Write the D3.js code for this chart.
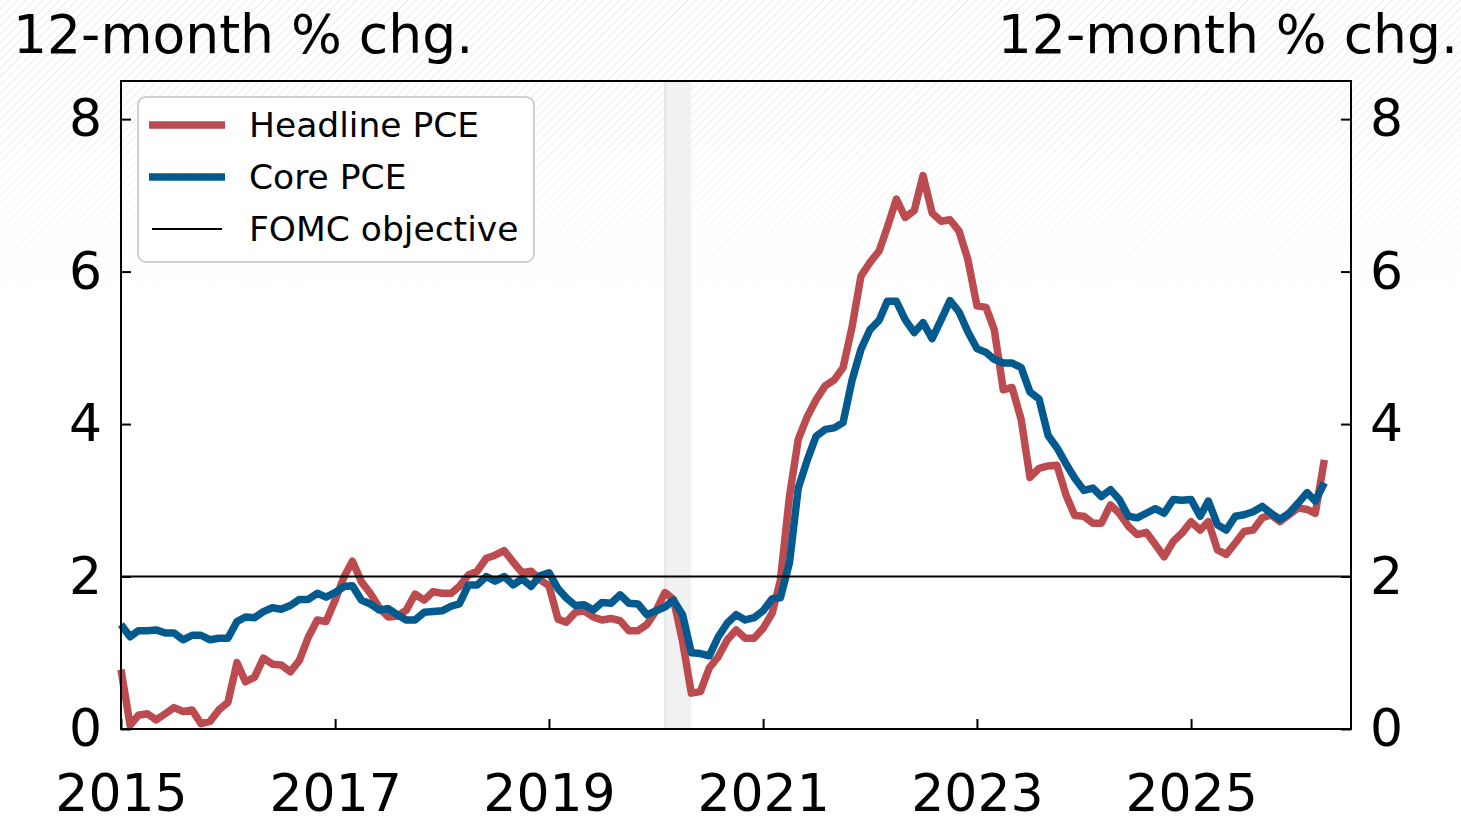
<!DOCTYPE html>
<html>
<head>
<meta charset="utf-8">
<script src="https://cdn.jsdelivr.net/npm/d3@7"></script>
<style>
  body { margin: 0; background: #fff; }
  svg { display: block; font-family: "DejaVu Sans", sans-serif; }
</style>
</head>
<body>
<div id="chart"></div>
<script>
// monthly 12-month % changes, first value is Dec 2014 (plotted at month end)
const startMonth = "2014-12";
const headline = [
  0.78, 0.05, 0.18, 0.20, 0.12, 0.20, 0.28, 0.23, 0.25, 0.07, 0.10, 0.25,
  0.35, 0.87, 0.62, 0.68, 0.93, 0.85, 0.84, 0.75, 0.90, 1.20, 1.43, 1.41,
  1.69, 2.00, 2.20, 1.93, 1.78, 1.59, 1.47, 1.48, 1.56, 1.77, 1.69, 1.80,
  1.78, 1.78, 1.87, 2.02, 2.07, 2.24, 2.28, 2.34, 2.19, 2.05, 2.07, 1.96,
  1.88, 1.44, 1.40, 1.53, 1.55, 1.47, 1.43, 1.45, 1.42, 1.29, 1.29, 1.37,
  1.55, 1.79, 1.70, 1.15, 0.47, 0.49, 0.80, 0.95, 1.17, 1.30, 1.19, 1.19,
  1.32, 1.52, 1.95, 3.05, 3.80, 4.10, 4.32, 4.50, 4.58, 4.74, 5.28, 5.94,
  6.12, 6.27, 6.58, 6.95, 6.71, 6.80, 7.26, 6.77, 6.66, 6.68, 6.53, 6.16,
  5.55, 5.53, 5.24, 4.45, 4.48, 4.06, 3.30, 3.42, 3.45, 3.46, 3.07, 2.80,
  2.79, 2.70, 2.70, 2.94, 2.83, 2.66, 2.55, 2.58, 2.42, 2.26, 2.46, 2.57,
  2.72, 2.61, 2.72, 2.35, 2.29, 2.44, 2.59, 2.61, 2.77, 2.81, 2.72, 2.81,
  2.90, 2.88, 2.83, 3.53
];
const core = [
  1.37, 1.21, 1.29, 1.29, 1.30, 1.26, 1.26, 1.17, 1.23, 1.23, 1.17, 1.19,
  1.19, 1.41, 1.47, 1.46, 1.54, 1.59, 1.57, 1.62, 1.70, 1.70, 1.78, 1.73,
  1.79, 1.87, 1.88, 1.69, 1.64, 1.56, 1.58, 1.50, 1.43, 1.43, 1.53, 1.54,
  1.55, 1.61, 1.64, 1.89, 1.89, 2.00, 1.94, 2.00, 1.89, 1.97, 1.87, 2.01,
  2.05, 1.84, 1.72, 1.62, 1.63, 1.56, 1.66, 1.65, 1.76, 1.65, 1.64, 1.50,
  1.55, 1.60, 1.69, 1.50, 1.00, 0.99, 0.96, 1.21, 1.39, 1.50, 1.43, 1.46,
  1.55, 1.71, 1.72, 2.18, 3.16, 3.53, 3.84, 3.93, 3.95, 4.02, 4.58, 4.98,
  5.24, 5.36, 5.61, 5.61, 5.37, 5.20, 5.33, 5.12, 5.37, 5.62, 5.47, 5.21,
  4.99, 4.94, 4.85, 4.80, 4.80, 4.74, 4.42, 4.33, 3.85, 3.69, 3.48, 3.29,
  3.13, 3.16, 3.05, 3.14, 3.01, 2.79, 2.77, 2.83, 2.89, 2.83, 3.01, 3.00,
  3.01, 2.79, 2.99, 2.68, 2.61, 2.79, 2.81, 2.85, 2.92, 2.83, 2.75, 2.83,
  2.96, 3.10, 2.99, 3.23
];
const target = 2;
const recession = ["2020-02-01", "2020-05-01"];
const yTicks = [0, 2, 4, 6, 8];
const xTickYears = [2015, 2017, 2019, 2021, 2023, 2025];
const seriesNames = ["Headline PCE", "Core PCE", "FOMC objective"];
const axisTitle = "12-month % chg.";

const W = 1461, H = 817;
const margin = { top: 81, right: 110, bottom: 88, left: 121 };
const width = W - margin.left - margin.right;
const height = H - margin.top - margin.bottom;
const colors = { headline: "#bc4b4f", core: "#035a8f" };
const fontSize = 52;

const parseMonth = d3.timeParse("%Y-%m");
const dates = headline.map((_, i) => d3.timeMonth.offset(parseMonth(startMonth), i + 1));

const svgRoot = d3.select("#chart").append("svg")
    .attr("width", W)
    .attr("height", H);

// faint diagonal hatch in the background, fading out downwards
const defs = svgRoot.append("defs");
defs.append("pattern")
    .attr("id", "hatch")
    .attr("patternUnits", "userSpaceOnUse")
    .attr("width", 6).attr("height", 6)
    .attr("patternTransform", "rotate(45)")
  .append("line")
    .attr("x1", 0).attr("y1", 0).attr("x2", 0).attr("y2", 6)
    .attr("stroke", "#e4e4e4").attr("stroke-width", 1.6);
const grad = defs.append("linearGradient")
    .attr("id", "fade").attr("x1", 0).attr("y1", 0).attr("x2", 0).attr("y2", 1);
grad.append("stop").attr("offset", "0%").attr("stop-color", "#fff");
grad.append("stop").attr("offset", "12%").attr("stop-color", "#fff").attr("stop-opacity", 0.8);
grad.append("stop").attr("offset", "40%").attr("stop-color", "#fff").attr("stop-opacity", 0);
defs.append("mask").attr("id", "fadeMask")
  .append("rect").attr("width", W).attr("height", H).attr("fill", "url(#fade)");

svgRoot.append("rect").attr("width", W).attr("height", H).attr("fill", "#fff");
svgRoot.append("rect").attr("width", W).attr("height", H)
    .attr("fill", "url(#hatch)").attr("mask", "url(#fadeMask)");

const svg = svgRoot.append("g")
    .attr("transform", "translate(" + margin.left + "," + margin.top + ")");

const x = d3.scaleTime()
    .domain([new Date(2015, 0, 1), new Date(2026, 6, 1)])
    .range([0, width]);
const y = d3.scaleLinear().domain([0, 8.5]).range([height, 0]);

// recession shading
svg.append("rect")
    .attr("x", x(new Date(recession[0])))
    .attr("y", 0)
    .attr("width", x(new Date(recession[1])) - x(new Date(recession[0])))
    .attr("height", height)
    .attr("fill", "#f1f1f1");
svg.append("line")
    .attr("x1", x(new Date(recession[0]))).attr("x2", x(new Date(recession[0])))
    .attr("y1", 0).attr("y2", height)
    .attr("stroke", "#d6d6d6").attr("stroke-width", 1);

const line = d3.line()
    .x((d, i) => x(dates[i]))
    .y(d => y(d));

svg.append("path").datum(headline)
    .attr("fill", "none")
    .attr("stroke", colors.headline)
    .attr("stroke-width", 7.5)
    .attr("stroke-linejoin", "round")
    .attr("d", line);

svg.append("path").datum(core)
    .attr("fill", "none")
    .attr("stroke", colors.core)
    .attr("stroke-width", 7.5)
    .attr("stroke-linejoin", "round")
    .attr("d", line);

svg.append("line")
    .attr("x1", 0).attr("x2", width)
    .attr("y1", y(target)).attr("y2", y(target))
    .attr("stroke", "#000").attr("stroke-width", 2);

// axes, ticks pointing inward
const styleAxis = g => {
    g.select(".domain").remove();
    g.selectAll(".tick line").attr("stroke", "#000").attr("stroke-width", 2);
    g.selectAll(".tick text").attr("fill", "#000").style("font-size", fontSize + "px")
        .style("font-family", "DejaVu Sans");
};

svg.append("g")
    .attr("transform", "translate(0," + height + ")")
    .call(d3.axisBottom(x)
        .tickValues(xTickYears.map(yr => new Date(yr, 0, 1)))
        .tickFormat(d3.timeFormat("%Y"))
        .tickSize(-10).tickPadding(45))
    .call(styleAxis);

svg.append("g")
    .call(d3.axisLeft(y).tickValues(yTicks).tickSize(-10).tickPadding(19))
    .call(styleAxis);

svg.append("g")
    .attr("transform", "translate(" + width + ",0)")
    .call(d3.axisRight(y).tickValues(yTicks).tickSize(-10).tickPadding(19))
    .call(styleAxis);

// frame
svg.append("rect")
    .attr("width", width).attr("height", height)
    .attr("fill", "none").attr("stroke", "#000").attr("stroke-width", 2);

// axis titles
svgRoot.append("text")
    .attr("x", 13).attr("y", 53)
    .style("font-size", "53.5px")
    .text(axisTitle);
svgRoot.append("text")
    .attr("x", 1458).attr("y", 53)
    .attr("text-anchor", "end")
    .style("font-size", "53.5px")
    .text(axisTitle);

// legend
const legend = svgRoot.append("g").attr("transform", "translate(138,97)");
legend.append("rect")
    .attr("width", 396).attr("height", 165).attr("rx", 8)
    .attr("fill", "#fff").attr("fill-opacity", 0.85)
    .attr("stroke", "#cfcfcf").attr("stroke-width", 2);
const legendItems = [
    { name: seriesNames[0], color: colors.headline, w: 7.5 },
    { name: seriesNames[1], color: colors.core, w: 7.5 },
    { name: seriesNames[2], color: "#000", w: 2 }
];
legendItems.forEach((d, i) => {
    const yy = 28 + i * 52;
    legend.append("line")
        .attr("x1", d.w > 2 ? 11 : 14).attr("x2", d.w > 2 ? 87 : 84)
        .attr("y1", yy).attr("y2", yy)
        .attr("stroke", d.color).attr("stroke-width", d.w);
    legend.append("text")
        .attr("x", 111).attr("y", yy + 12)
        .style("font-size", "34.5px")
        .text(d.name);
});
</script>
</body>
</html>
